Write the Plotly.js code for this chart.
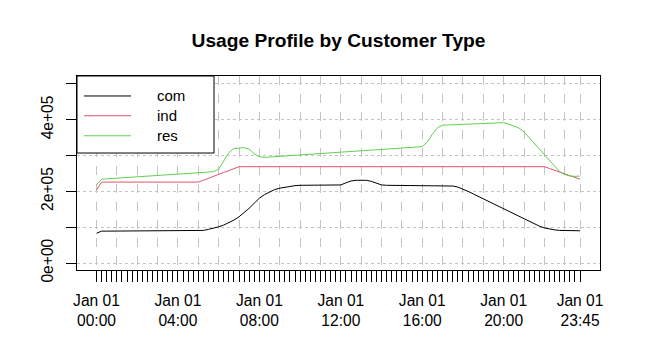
<!DOCTYPE html>
<html>
<head>
<meta charset="utf-8">
<script src="https://cdn.plot.ly/plotly-3.0.1.min.js"></script>
<style>html,body{margin:0;padding:0;background:#fff;}#chart{width:654px;height:355px;}</style>
</head>
<body>
<div id="chart"></div>
<script>
// ---- data (15-minute observations, Jan 01 00:00 .. 23:45) ----
var seriesNames = ['com', 'ind', 'res'];
var seriesColors = ['#000000', '#DF536B', '#61D04F'];

var com = [
  83000, 89000, 89000, 89000, 89000, 89000, 89000, 89000, 89000, 89000,
  89000, 89000, 89000, 89000, 89000, 89000, 89000, 89000, 89000, 89000,
  89500, 91000, 94000, 97000, 101000, 106000, 112000, 120000, 129000, 140000,
  153000, 167000, 181000, 191000, 199000, 205000, 209000, 212000, 215000, 216000,
  217000, 217000, 217000, 217000, 217000, 217000, 217000, 217000, 218000, 224000,
  229000, 231000, 231000, 231000, 228000, 222000, 218000, 217000, 217000, 217000,
  217000, 217000, 217000, 217000, 217000, 217000, 217000, 217000, 216500, 216000,
  215000, 212000, 207000, 200000, 193000, 186000, 179000, 172000, 165000, 158000,
  151000, 144000, 137000, 130000, 123000, 116000, 109000, 103000, 98000, 94500,
  92500, 91000, 90500, 90000, 90000, 90000
];

var ind = [
  204000, 226000, 226000, 226000, 226000, 226000, 226000, 226000, 226000, 226000,
  226000, 226000, 226000, 226000, 226000, 226000, 226000, 226000, 226000, 226000,
  226000, 231000, 237000, 242000, 247000, 253000, 258000, 264000, 269000, 269000,
  269000, 269000, 269000, 269000, 269000, 269000, 269000, 269000, 269000, 269000,
  269000, 269000, 269000, 269000, 269000, 269000, 269000, 269000, 269000, 269000,
  269000, 269000, 269000, 269000, 269000, 269000, 269000, 269000, 269000, 269000,
  269000, 269000, 269000, 269000, 269000, 269000, 269000, 269000, 269000, 269000,
  269000, 269000, 269000, 269000, 269000, 269000, 269000, 269000, 269000, 269000,
  269000, 269000, 269000, 269000, 269000, 269000, 269000, 269000, 269000, 264000,
  259000, 254000, 249000, 244000, 239000, 234000
];

var res = [
  218000, 234000, 235000, 236000, 237000, 238000, 239000, 240000, 240500, 241500,
  242500, 243500, 244000, 245000, 246000, 247000, 248000, 249000, 250000, 251000,
  252000, 253000, 254000, 255000, 262000, 285000, 308000, 320000, 322000, 322000,
  318000, 305000, 297000, 295000, 296000, 297000, 298000, 299000, 300000, 300500,
  301500, 302500, 303500, 304500, 305500, 306000, 307000, 308000, 309000, 310000,
  311000, 312000, 313000, 314000, 314500, 315500, 316500, 317500, 318500, 319500,
  320500, 321500, 322500, 323500, 325000, 338000, 360000, 378000, 385000, 385500,
  386000, 387000, 387500, 388000, 388500, 389000, 390000, 390500, 391000, 391500,
  392000, 388000, 383000, 377000, 366000, 350000, 334000, 318000, 302000, 286000,
  270000, 255000, 247000, 243000, 242000, 243000
];

// tick labels
var dateLabel = 'Jan 01';
var majorTimes = ['00:00', '04:00', '08:00', '12:00', '16:00', '20:00', '23:45'];
var yTickVals = [0, 100000, 200000, 300000, 400000, 500000];
var yTickText = ['0e+00', '', '2e+05', '', '4e+05', ''];
var titleText = 'Usage Profile by Customer Type';

// ---- time index ----
function pad(n) { return (n < 10 ? '0' : '') + n; }
var clock = [], times = [];
for (var k = 0; k < com.length; k++) {
  var hh = Math.floor(k / 4), mm = (k % 4) * 15;
  clock.push(pad(hh) + ':' + pad(mm));
  times.push('2024-01-01 ' + pad(hh) + ':' + pad(mm));
}
var tickText = clock.map(function (c) {
  return majorTimes.indexOf(c) >= 0 ? dateLabel + '<br>' + c : '';
});
// vertical grid: every hour plus last observation
var gridTimes = times.filter(function (t, k) { return k % 4 === 0; });
gridTimes.push(times[times.length - 1]);

var values = [com, ind, res];
var traces = values.map(function (v, s) {
  return {
    x: times, y: v, type: 'scatter', mode: 'lines', name: seriesNames[s],
    line: { color: seriesColors[s], width: 1 }, showlegend: false, hoverinfo: 'x+y+name'
  };
});

// ---- manual R-style legend (paper coordinates) ----
var shapes = [{
  type: 'rect', xref: 'paper', yref: 'paper', x0: 0, x1: 0.262, y0: 0.603, y1: 1,
  fillcolor: '#ffffff', line: { color: '#000000', width: 1 }, layer: 'above'
}];
var annotations = [];
var rowY = [0.897, 0.795, 0.692];
seriesNames.forEach(function (n, s) {
  shapes.push({
    type: 'line', xref: 'paper', yref: 'paper', x0: 0.0134, x1: 0.1033, y0: rowY[s], y1: rowY[s],
    line: { color: seriesColors[s], width: 1 }, layer: 'above'
  });
  annotations.push({
    xref: 'paper', yref: 'paper', x: 0.149, y: rowY[s], xanchor: 'left', yanchor: 'middle',
    text: n, showarrow: false, font: { size: 15, color: '#000' }
  });
});

var layout = {
  width: 654, height: 355,
  margin: { l: 77, r: 54, t: 76, b: 85, pad: 0 },
  paper_bgcolor: '#ffffff', plot_bgcolor: '#ffffff',
  font: { family: 'Liberation Sans, Arial, sans-serif', size: 15.6, color: '#000' },
  title: {
    text: '<b>' + titleText + '</b>', font: { size: 19.2, color: '#000' },
    xref: 'paper', x: 0.5, xanchor: 'center', yref: 'container', y: 0.887, yanchor: 'middle'
  },
  xaxis: {
    type: 'date', range: ['2023-12-31 23:02:30', '2024-01-02 00:43:48'],
    tickmode: 'array', tickvals: times, ticktext: tickText, tickangle: 0,
    ticks: 'outside', ticklen: 11, tickwidth: 1, tickcolor: '#000',
    ticklabelstandoff: 5,
    showgrid: false, zeroline: false,
    showline: true, mirror: true, linecolor: '#000', linewidth: 1,
    minor: { tickmode: 'array', tickvals: gridTimes, showgrid: true, gridcolor: '#c4c4c4', griddash: 'dash', gridwidth: 1, ticks: '' },
    tickfont: { size: 15.6 }
  },
  yaxis: {
    range: [-19550, 522300],
    tickmode: 'array', tickvals: yTickVals, ticktext: yTickText, tickangle: -90,
    ticks: 'outside', ticklen: 10, tickwidth: 1, tickcolor: '#000',
    ticklabelstandoff: 7,
    showgrid: true, gridcolor: '#c4c4c4', griddash: 'dot', gridwidth: 1, zeroline: false,
    showline: true, mirror: true, linecolor: '#000', linewidth: 1,
    tickfont: { size: 15.6 }
  },
  shapes: shapes,
  annotations: annotations,
  showlegend: false
};

Plotly.newPlot('chart', traces, layout, { displayModeBar: false, staticPlot: true });
</script>
</body>
</html>
